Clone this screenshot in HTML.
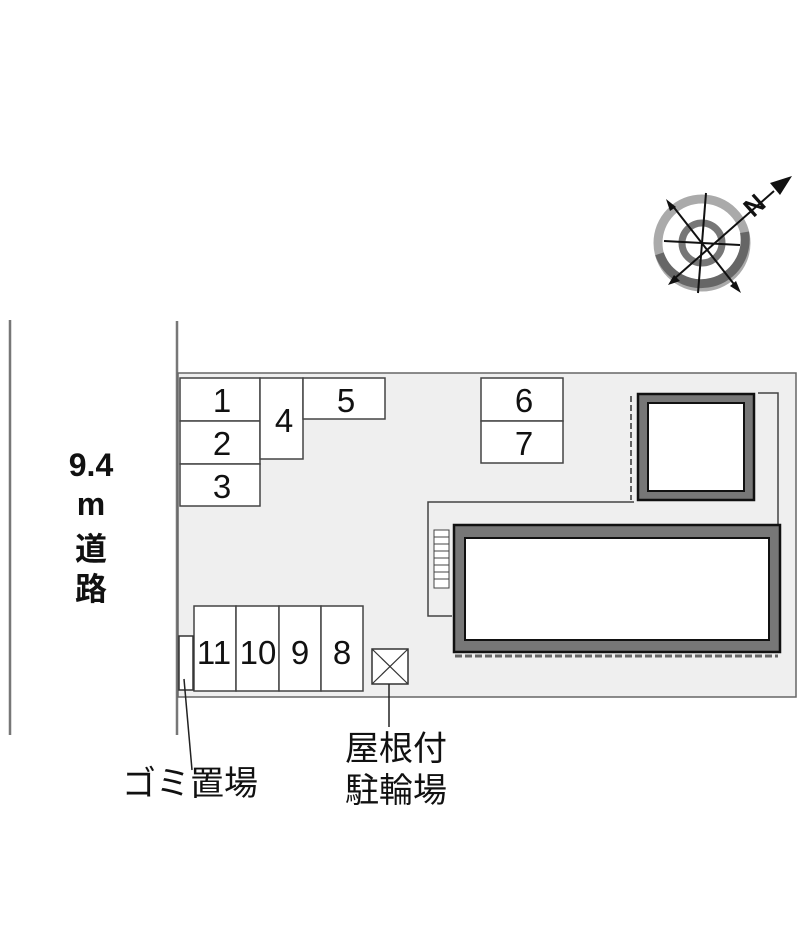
<!DOCTYPE html>
<html><head><meta charset="utf-8"><style>
html,body{margin:0;padding:0;background:#fff;}
svg{display:block;}
text{font-family:"Liberation Sans","Noto Sans CJK JP",sans-serif;fill:#111;}
</style></head><body>
<svg width="800" height="942" viewBox="0 0 800 942" xmlns="http://www.w3.org/2000/svg">
<line x1="10" y1="320" x2="10" y2="735" stroke="#777" stroke-width="2.5"/>
<line x1="177" y1="321" x2="177" y2="735" stroke="#777" stroke-width="2.5"/>
<rect x="178" y="373" width="618" height="324" fill="#efefef" stroke="#666" stroke-width="1.5"/>
<g fill="#fff" stroke="#444" stroke-width="1.5">
<rect x="180" y="378" width="80" height="43"/>
<rect x="180" y="421" width="80" height="43"/>
<rect x="180" y="464" width="80" height="42"/>
<rect x="260" y="378" width="43" height="81"/>
<rect x="303" y="378" width="82" height="41"/>
<rect x="481" y="378" width="82" height="43"/>
<rect x="481" y="421" width="82" height="42"/>
<rect x="194" y="606" width="42" height="85"/>
<rect x="236" y="606" width="43" height="85"/>
<rect x="279" y="606" width="42" height="85"/>
<rect x="321" y="606" width="42" height="85"/>
<rect x="179" y="636" width="14" height="54" stroke="#333"/>
</g>
<g font-size="33" text-anchor="middle">
<text x="222" y="412">1</text>
<text x="222" y="455">2</text>
<text x="222" y="498">3</text>
<text x="284" y="432">4</text>
<text x="346" y="412">5</text>
<text x="524" y="412">6</text>
<text x="524" y="455">7</text>
<text x="214" y="664">11</text>
<text x="258" y="664">10</text>
<text x="300" y="664">9</text>
<text x="342" y="664">8</text>
</g>
<rect x="372" y="649" width="36" height="35" fill="#fff" stroke="#333" stroke-width="1.5"/>
<line x1="372" y1="649" x2="408" y2="684" stroke="#333" stroke-width="1.2"/>
<line x1="408" y1="649" x2="372" y2="684" stroke="#333" stroke-width="1.2"/>
<polyline points="758,393 778,393 778,525" fill="none" stroke="#444" stroke-width="1.5"/>
<polyline points="634,502 428,502 428,616 452,616" fill="none" stroke="#444" stroke-width="1.5"/>
<line x1="631" y1="396" x2="631" y2="500" stroke="#333" stroke-width="1.5" stroke-dasharray="6,3"/>
<line x1="455" y1="656" x2="778" y2="656" stroke="#666" stroke-width="3" stroke-dasharray="7,3"/>
<rect x="638" y="394" width="116" height="106" fill="#777" stroke="#111" stroke-width="2.5"/>
<rect x="648" y="403" width="96" height="88" fill="#fff" stroke="#111" stroke-width="2"/>
<rect x="454" y="525" width="326" height="127" fill="#777" stroke="#111" stroke-width="2.5"/>
<rect x="465" y="538" width="304" height="102" fill="#fff" stroke="#111" stroke-width="2"/>
<g fill="#fff" stroke="#444" stroke-width="1">
<rect x="434" y="530" width="15" height="58"/>
<line x1="434" y1="537" x2="449" y2="537"/><line x1="434" y1="544" x2="449" y2="544"/>
<line x1="434" y1="551" x2="449" y2="551"/><line x1="434" y1="558" x2="449" y2="558"/>
<line x1="434" y1="565" x2="449" y2="565"/><line x1="434" y1="572" x2="449" y2="572"/>
<line x1="434" y1="579" x2="449" y2="579"/>
</g>
<line x1="184" y1="679" x2="192" y2="770" stroke="#222" stroke-width="1.5"/>
<line x1="389" y1="684" x2="389" y2="727" stroke="#222" stroke-width="1.5"/>
<g font-size="32" font-weight="bold" text-anchor="middle">
<text x="91" y="476">9.4</text>
<text x="91" y="515">m</text>
<text x="91" y="560">道</text>
<text x="91" y="600">路</text>
</g>
<g font-size="34">
<text x="122" y="795">ゴミ置場</text>
<text x="345" y="760">屋根付</text>
<text x="345" y="802">駐輪場</text>
</g>
<g transform="translate(702,243)">
<circle r="44" fill="none" stroke="#aaa" stroke-width="9"/>
<path d="M -40 18 A 44 44 0 0 0 40 -18" fill="none" stroke="#666" stroke-width="9" transform="rotate(10)"/>
<circle r="20" fill="none" stroke="#777" stroke-width="7"/>
<g stroke="#111" stroke-width="2">
<line x1="-38" y1="-2" x2="38" y2="2"/>
<line x1="4" y1="-50" x2="-4" y2="50"/>
<line x1="-30" y1="-38" x2="35" y2="45"/>
<line x1="-28" y1="36" x2="72" y2="-52"/>
</g>
<polygon points="-36,-44 -26,-36 -32,-32" fill="#111"/>
<polygon points="39,50 28,43 34,38" fill="#111"/>
<polygon points="-34,42 -22,38 -28,32" fill="#111"/>
<polygon points="90,-67 68,-60 78,-48" fill="#111"/>
<text x="44" y="-28" font-size="26" font-weight="bold" transform="rotate(-42 52 -36)">N</text>
</g>
</svg>
</body></html>
